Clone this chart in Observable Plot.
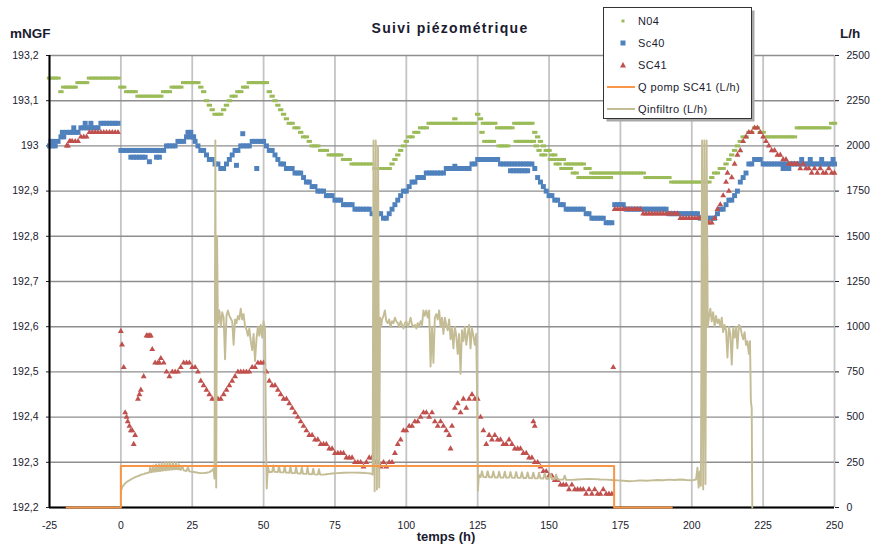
<!DOCTYPE html>
<html>
<head>
<meta charset="utf-8">
<script src="https://cdn.jsdelivr.net/npm/d3@7"></script>
<script src="https://cdn.jsdelivr.net/npm/@observablehq/plot@0.6"></script>
<style>
  body { margin: 0; background: #fff; }
  #chart { position: relative; width: 873px; height: 547px; overflow: hidden; background: #fff;
           font-family: "Liberation Sans", Arial, sans-serif; color: #1b1b2f; }
  #chart > svg, #chart > .layer { position: absolute; left: 0; top: 0; }
  .lbl { position: absolute; white-space: nowrap; font-weight: bold; line-height: 1; }
</style>
</head>
<body>
<div id="chart"></div>
<script>
// Hourly piezometer readings (mNGF) starting at hour -25, one reading per hour
const firstHour = -25;

const n04Level = [
  193.15,193.15,193.15,193.15,193.12,193.13,193.13,193.13,193.13,193.13,
  193.14,193.14,193.14,193.14,193.15,193.15,193.15,193.15,193.15,193.15,
  193.15,193.15,193.15,193.15,193.15,193.13,193.13,193.12,193.12,193.12,
  193.12,193.11,193.11,193.11,193.11,193.11,193.11,193.11,193.11,193.11,
  193.12,193.12,193.12,193.13,193.13,193.13,193.13,193.14,193.14,193.14,
  193.14,193.14,193.14,193.13,193.12,193.10,193.09,193.08,193.07,193.07,
  193.07,193.08,193.09,193.10,193.11,193.11,193.12,193.12,193.13,193.13,
  193.14,193.14,193.14,193.14,193.14,193.14,193.14,193.12,193.11,193.10,
  193.09,193.08,193.07,193.06,193.05,193.05,193.04,193.04,193.03,193.02,
  193.02,193.01,193.00,193.00,193.00,192.99,192.99,192.99,192.98,192.98,
  192.98,192.98,192.98,192.97,192.97,192.97,192.96,192.96,192.96,192.96,
  192.96,192.96,192.96,192.96,192.95,192.95,192.95,192.95,192.95,192.95,
  192.96,192.97,192.98,192.99,193.00,193.01,193.02,193.02,193.03,193.03,
  193.04,193.04,193.04,193.05,193.05,193.05,193.05,193.05,193.05,193.05,
  193.05,193.05,193.05,193.05,193.05,193.05,193.05,193.05,193.05,193.05,
  193.07,193.06,193.05,193.05,193.05,193.05,193.05,193.04,193.04,193.04,
  193.04,193.04,193.04,193.05,193.05,193.05,193.05,193.05,193.05,193.05,
  193.03,193.02,193.01,193.00,192.99,192.99,192.98,192.98,192.97,192.97,
  192.97,192.96,192.96,192.96,192.96,192.96,192.96,192.96,192.95,192.95,
  192.94,192.94,192.94,192.94,192.94,192.94,192.94,192.94,192.94,192.94,
  192.94,192.94,192.94,192.94,192.94,192.94,192.94,192.94,192.94,192.93,
  192.93,192.93,192.93,192.93,192.93,192.93,192.93,192.93,192.92,192.92,
  192.92,192.92,192.92,192.92,192.92,192.92,192.92,192.92,192.92,192.92,
  192.92,192.92,192.93,192.94,192.94,192.95,192.95,192.96,192.97,192.98,
  192.99,193.00,193.01,193.02,193.02,193.03,193.03,193.04,193.04,193.03,
  193.03,193.02,193.02,193.02,193.02,193.02,193.02,193.02,193.02,193.02,
  193.02,193.02,193.04,193.04,193.04,193.04,193.04,193.04,193.04,193.04,
  193.04,193.04,193.04,193.04,193.05,193.05
];

const sc40Level = [
  193.00,193.00,193.00,193.01,193.02,193.02,193.03,193.03,193.03,193.03,
  193.03,193.04,193.04,193.04,193.04,193.04,193.04,193.04,193.05,193.05,
  193.05,193.05,193.05,193.05,193.05,192.99,192.99,192.99,192.99,192.99,
  192.99,192.99,192.99,192.99,192.99,192.99,192.99,192.99,192.99,192.99,
  192.99,193.00,193.00,193.00,193.00,193.01,193.01,193.01,193.02,193.02,
  193.02,193.01,193.00,192.99,192.99,192.98,192.97,192.97,192.96,192.96,
  192.95,192.95,192.96,192.97,192.98,192.99,192.99,193.00,193.00,193.00,
  193.00,193.01,193.01,193.01,193.01,193.01,193.00,192.99,192.99,192.98,
  192.97,192.96,192.96,192.95,192.95,192.95,192.94,192.94,192.94,192.93,
  192.92,192.92,192.91,192.91,192.90,192.90,192.90,192.89,192.89,192.89,
  192.88,192.88,192.88,192.87,192.87,192.87,192.87,192.86,192.86,192.86,
  192.86,192.86,192.86,192.85,192.85,192.85,192.85,192.84,192.84,192.85,
  192.86,192.87,192.88,192.89,192.90,192.90,192.91,192.92,192.92,192.93,
  192.93,192.93,192.94,192.94,192.94,192.94,192.94,192.94,192.94,192.95,
  192.95,192.95,192.95,192.95,192.95,192.95,192.95,192.95,192.96,192.96,
  192.97,192.97,192.97,192.97,192.97,192.97,192.97,192.97,192.96,192.96,
  192.96,192.96,192.96,192.96,192.96,192.96,192.96,192.96,192.96,192.96,
  192.95,192.93,192.92,192.91,192.90,192.89,192.89,192.88,192.88,192.87,
  192.87,192.86,192.86,192.86,192.86,192.86,192.86,192.86,192.85,192.85,
  192.84,192.84,192.84,192.84,192.84,192.83,192.83,192.83,192.87,192.87,
  192.87,192.87,192.86,192.86,192.86,192.86,192.86,192.86,192.86,192.86,
  192.86,192.86,192.86,192.86,192.86,192.86,192.86,192.85,192.85,192.85,
  192.85,192.85,192.85,192.85,192.85,192.85,192.85,192.85,192.84,192.84,
  192.84,192.84,192.84,192.84,192.85,192.86,192.86,192.87,192.88,192.88,
  192.89,192.90,192.92,192.93,192.94,192.96,192.96,192.97,192.97,192.97,
  192.96,192.96,192.96,192.96,192.96,192.96,192.96,192.96,192.96,192.96,
  192.96,192.96,192.96,192.96,192.96,192.96,192.96,192.96,192.96,192.96,
  192.96,192.96,192.96,192.96,192.96,192.96
];

const sc41Level = [
  null,null,null,null,null,null,193.00,193.01,193.01,193.01,
  193.01,193.02,193.02,193.02,193.03,193.03,193.03,193.03,193.03,193.03,
  193.03,193.03,193.03,193.03,193.03,192.59,192.51,192.40,192.38,192.37,
  192.36,192.44,192.46,192.49,192.58,192.58,192.55,192.52,192.52,192.53,
  192.52,192.50,192.49,192.50,192.50,192.50,192.51,192.52,192.52,192.52,
  192.51,192.51,192.50,192.48,192.47,192.46,192.45,192.44,192.44,192.44,
  192.44,192.45,192.46,192.47,192.48,192.49,192.50,192.50,192.50,192.50,
  192.50,192.51,192.51,192.52,192.52,192.52,192.50,192.48,192.47,192.47,
  192.46,192.45,192.44,192.44,192.43,192.42,192.41,192.40,192.39,192.38,
  192.37,192.36,192.36,192.35,192.35,192.34,192.34,192.34,192.33,192.33,
  192.32,192.32,192.32,192.32,192.31,192.31,192.31,192.30,192.30,192.30,
  192.29,192.30,192.31,192.31,192.30,192.30,192.29,192.30,192.29,192.30,
  192.30,192.32,192.34,192.35,192.37,192.37,192.38,192.38,192.39,192.39,
  192.40,192.41,192.41,192.40,192.41,192.39,192.38,192.39,192.38,192.37,
  192.36,192.38,192.42,192.43,192.41,192.44,192.42,192.44,192.45,192.44,
  192.44,192.40,192.37,192.34,192.36,192.35,192.36,192.35,192.35,192.34,
  192.34,192.35,192.34,192.33,192.33,192.33,192.32,192.32,192.31,192.31,
  192.30,192.30,192.29,192.28,192.28,192.27,192.27,192.26,192.26,192.25,
  192.25,192.25,192.24,192.25,192.24,192.24,192.24,192.24,192.23,192.24,
  192.23,192.24,192.23,192.23,192.24,192.23,192.23,192.23,192.86,192.86,
  192.86,192.86,192.86,192.86,192.86,192.86,192.86,192.86,192.85,192.85,
  192.85,192.85,192.85,192.85,192.85,192.85,192.85,192.85,192.85,192.85,
  192.85,192.84,192.84,192.84,192.84,192.84,192.84,192.84,192.84,192.84,
  192.83,192.83,192.83,192.84,192.86,192.87,192.89,192.92,192.90,192.93,
  192.96,192.98,192.99,193.01,193.02,193.03,193.03,193.04,193.04,193.03,
  193.02,193.01,193.00,192.99,192.99,192.98,192.98,192.97,192.97,192.96,
  192.96,192.96,192.96,192.95,192.96,192.95,192.95,192.94,192.95,192.94,
  192.95,192.94,192.94,192.95,192.94,192.94
];

// Readings logged between the hourly ones: [hour, mNGF]
const n04Extra = [
  [117,193.06],[126.5,193.03],[127.5,193.01],[128.5,193.01],[129.5,193.01],[130.5,193.01],
  [132.5,193.00],[133.5,193.00],[134.5,193.00],[135.5,193.00],[138.5,193.01],[139.5,193.01],
  [140.5,193.01],[141.5,193.01],[142.5,193.01],[143.5,193.01],[144.5,193.01],[145.5,193.00],
  [146.5,192.99],[147.5,192.98],[148.5,192.98],[150.5,192.97],[151.5,192.97],[152.5,192.96],
  [153.5,192.96],[154.5,192.95],[155.5,192.95],[156.5,192.95],[157.5,192.95],[158.5,192.94],
  [159.5,192.94],[160.5,192.93],[161.5,192.93],[162.5,192.93],[163.5,192.93],[164.5,192.93],
  [165.5,192.93],[166.5,192.93],[167.5,192.93],[168.5,192.93],[169.5,192.93],[170.5,192.93],
  [171.5,192.93]
];
const sc40Extra = [
  [-24.5,193.01],[-23.5,193.01],[-20.5,193.03],[-16.5,193.04],[-12.5,193.05],[-10.5,193.05],
  [3.5,192.975],[4.5,192.975],[5.5,192.975],[6.5,192.975],[7.5,192.975],[8.5,192.975],
  [10,192.965],[12.5,192.975],[13.5,192.975],[23.5,193.03],[24.5,193.03],[25.5,193.02],
  [40.5,192.957],[42.7,193.027],[47.6,192.95],[117,192.955],[136.5,192.945],[137.5,192.945],
  [138.5,192.945],[139.5,192.945],[140.5,192.945],[141.5,192.945],[142.5,192.945],
  [232,192.95],[233,192.95],[234,192.95],[238.5,192.97],[241.5,192.97],[245.5,192.97],[249.5,192.97]
];
const sc41Extra = [
  [-18.5,193.00],[-17.5,193.01],[0.4,192.56],[1.5,192.41],[2.4,192.39],[3.5,192.37],[4.5,192.34],
  [6.5,192.45],[9.5,192.58],[10.5,192.58],[13.5,192.52],[115.5,192.33],[144.5,192.39],
  [145,192.38],[172.5,192.51],[212.5,192.94]
];

// Pumping rate of SC41 (L/h)
const qPompHours = [-19, 0, 0, 172.8, 172.8, 193];
const qPompRate  = [0, 0, 230, 230, 0, 0];

// Infiltration rate (L/h): [hour, L/h]
const qInfiltro = [
  [0,90],[0.4,110],[0.8,120],[1.2,128],[1.6,135],[2,140],[2.5,146],[3,150],[3.5,155],[4,160],
  [4.5,163],[5,168],[5.5,171],[6,174],[6.5,177],[7,180],[7.5,183],[8,185],[8.5,188],[9,190],
  [9.5,192],[10,194],[10.3,225],[10.6,195],[11,197],[11.3,232],[11.6,198],[12,199],[12.3,238],
  [12.6,200],[13,201],[13.3,240],[13.6,202],[14,203],[14.3,245],[14.6,204],[15,205],[15.3,246],
  [15.6,206],[16,207],[16.3,250],[16.6,208],[17,209],[17.3,250],[17.6,210],[18,210],[18.3,248],
  [18.6,211],[19,211],[19.3,246],[19.6,212],[20,211],[20.3,240],[20.6,210],[21,208],[21.5,230],
  [22,205],[23,202],[23.5,222],[24,200],[25,198],[26,195],[27,192],[28,190],[29,190],[30,192],
  [31,196],[32,205],[32.5,215],[32.8,160],[33.1,2030],[33.4,110],[33.7,1500],[34,1020],
  [34.5,1090],[35,1000],[35.5,1080],[36,1050],[36.5,820],[37,1060],[37.5,1090],[38,1060],
  [38.5,1045],[39,1030],[39.5,900],[40,1040],[40.5,1020],[41,1060],[41.5,1040],[42,1100],
  [42.5,1040],[43,1070],[43.5,1000],[44,985],[44.5,950],[45,990],[45.5,920],[46,870],[46.5,960],
  [47,810],[47.5,930],[48,1000],[48.5,950],[49,1010],[49.5,940],[50,1030],[50.5,980],[50.9,300],
  [51.1,105],[51.5,225],[52,195],[53,198],[53.4,232],[53.8,197],[55,196],[55.4,230],[55.8,195],
  [57,194],[57.4,228],[57.8,193],[59,192],[59.4,226],[59.8,191],[61,190],[61.4,224],[61.8,189],
  [63,188],[63.4,222],[63.8,187],[65,186],[65.4,220],[65.8,185],[67,184],[67.4,215],[67.8,183],
  [69,182],[69.4,212],[69.8,182],[71,182],[72,184],[73,186],[74,188],[76,190],[78,192],[80,193],
  [82,193],[84,192],[86,190],[87.5,188],[88.2,182],[88.5,2030],[88.9,90],[89.3,2030],[89.7,100],
  [90.1,2000],[90.5,110],[90.8,1050],[91.2,1000],[91.5,1040],[92,1060],[92.5,1090],[93,1030],
  [93.5,1020],[94,1040],[94.5,1000],[95,1030],[95.5,1020],[96,1050],[96.5,1030],[97,1020],
  [97.5,1000],[98,1030],[98.5,1010],[99,990],[99.5,1020],[100,1030],[100.5,1000],[101,1020],
  [101.5,1050],[102,1010],[102.5,1000],[103,1010],[103.5,990],[104,1020],[104.5,1000],[105,1030],
  [105.5,1010],[106,1090],[106.5,1060],[107,1090],[107.5,1050],[108,1090],[108.5,780],[109,1000],
  [109.5,800],[110,1050],[110.5,1070],[111,1040],[111.5,1090],[112,1000],[112.5,1050],[113,960],
  [113.5,1050],[114,1010],[114.5,980],[115,1040],[115.5,930],[116,990],[116.5,880],[117,1000],
  [117.5,950],[118,850],[118.5,960],[119,740],[119.5,980],[120,920],[120.5,1000],[121,900],
  [121.5,960],[122,1010],[122.5,880],[123,990],[123.5,950],[124,900],[124.5,960],[124.8,600],
  [125.1,94],[125.4,180],[126,168],[126.5,200],[127,168],[128,167],[128.5,200],[129,167],[130,167],
  [130.5,199],[131,166],[132,166],[132.5,198],[133,166],[134,165],[134.5,198],[135,165],[136,165],
  [136.5,196],[137,165],[138,164],[138.5,196],[139,164],[140,164],[140.5,195],[141,163],[142,163],
  [142.5,194],[143,163],[144,162],[144.5,193],[145,162],[146,161],[146.5,192],[147,161],[148,160],
  [148.5,190],[149,159],[150,158],[150.5,186],[151,157],[152,156],[152.5,182],[153,155],[154,154],
  [155,154],[155.5,176],[156,153],[158,153],[160,155],[162,157],[164,158],[166,157],[168,155],
  [170,154],[172,152],[174,150],[176,148],[178,145],[180,147],[182,150],[184,148],[186,150],
  [188,152],[190,151],[192,154],[194,152],[196,155],[198,152],[200,150],[201.5,155],[202,220],
  [202.4,110],[202.8,200],[203.2,120],[203.6,2030],[204,100],[204.4,2030],[204.8,130],[205.2,2030],
  [205.6,1000],[206,1050],[206.5,1100],[207,1030],[207.5,1080],[208,1000],[208.5,1060],[209,1020],
  [209.5,1040],[210,1000],[210.5,1050],[211,970],[211.5,1010],[212,980],[212.5,830],[213,1000],
  [213.5,960],[214,790],[214.5,990],[215,940],[215.5,1000],[216,880],[216.5,1010],[217,1000],
  [217.5,960],[218,930],[218.5,970],[219,900],[219.5,920],[220,850],[220.4,920],[220.7,590],
  [221,550],[221.2,0]
];

// Axis ticks
const hourTicks  = [-25, 0, 25, 50, 75, 100, 125, 150, 175, 200, 225, 250];
const levelTicks = [192.2, 192.3, 192.4, 192.5, 192.6, 192.7, 192.8, 192.9, 193.0, 193.1, 193.2];
const flowTicks  = [0, 250, 500, 750, 1000, 1250, 1500, 1750, 2000, 2250, 2500];

// Series styling
const colors = { n04: "#9bbb59", sc40: "#4f81bd", sc41: "#c0504d", pomp: "#f79646", infiltro: "#c4bc95" };
const textColor = "#1b1b2f";
const font = "'Liberation Sans', Arial, sans-serif";

// Short horizontal dash marker for N04
const dashSymbol = {
  draw(context, size) {
    const s = Math.sqrt(size);
    const w = s * 1.5, h = s * 0.85;
    context.rect(-w / 2, -h / 2, w, h);
  }
};

const toRows = (levels, extra) =>
  levels.map((v, i) => ({ hour: firstHour + i, level: v }))
        .filter(d => d.level != null)
        .concat(extra.map(([hour, level]) => ({ hour, level })));

const n04Rows  = toRows(n04Level, n04Extra);
const sc40Rows = toRows(sc40Level, sc40Extra);
const sc41Rows = toRows(sc41Level, sc41Extra);
const pompRows = qPompHours.map((h, i) => ({ hour: h, rate: qPompRate[i] }));
const infRows  = qInfiltro.map(([hour, rate]) => ({ hour, rate }));

const frame = { width: 873, height: 547, marginTop: 55, marginRight: 39, marginBottom: 40, marginLeft: 49 };
const frNum = d => (Math.round(d * 10) / 10).toString().replace(".", ",");

// Water levels, left axis
const levels = Plot.plot({
  ...frame,
  style: { background: "transparent", fontFamily: font, fontSize: "10.5px", color: textColor },
  x: { domain: [-25, 250] },
  y: { domain: [192.2, 193.2] },
  marks: [
    Plot.gridX(hourTicks, { stroke: "#c4c4c4", strokeOpacity: 1, strokeWidth: 1.8 }),
    Plot.gridY(levelTicks, { stroke: "#8e8e8e", strokeOpacity: 1, strokeWidth: 1.4 }),
    Plot.axisY(levelTicks, { tickSize: 3, tickPadding: 8, tickFormat: frNum, label: null }),
    Plot.axisX(hourTicks, { tickSize: 0, tickPadding: 14, tickFormat: d => String(d), label: null }),
    Plot.dot(n04Rows,  { x: "hour", y: "level", symbol: dashSymbol, r: 2.0, fill: colors.n04 }),
    Plot.dot(sc40Rows, { x: "hour", y: "level", symbol: "square",   r: 2.8, fill: colors.sc40 }),
    Plot.dot(sc41Rows, { x: "hour", y: "level", symbol: "triangle", r: 2.2, fill: colors.sc41 }),
    Plot.ruleX([-25], { stroke: "#000", strokeWidth: 2 }),
    Plot.ruleY([192.2], { stroke: "#000", strokeWidth: 2 })
  ]
});

// Flow rates, right axis
const flows = Plot.plot({
  ...frame,
  style: { background: "transparent", fontFamily: font, fontSize: "10.5px", color: textColor },
  x: { domain: [-25, 250], axis: null },
  y: { domain: [0, 2500] },
  marks: [
    Plot.axisY(flowTicks, { anchor: "right", tickSize: 4, tickPadding: 8, tickFormat: d => String(d), label: null }),
    Plot.line(infRows,  { x: "hour", y: "rate", stroke: colors.infiltro, strokeWidth: 1.9 }),
    Plot.line(pompRows, { x: "hour", y: "rate", stroke: colors.pomp, strokeWidth: 2 })
  ]
});

const chart = document.getElementById("chart");
chart.append(levels, flows);

// Titles and axis names
const addLabel = (text, css) => {
  const el = document.createElement("div");
  el.className = "lbl";
  el.textContent = text;
  Object.assign(el.style, css);
  chart.append(el);
};
addLabel("Suivi piézométrique", { left: "450px", top: "21px", fontSize: "14px", letterSpacing: "1.3px", transform: "translateX(-50%)" });
addLabel("mNGF", { left: "10px", top: "27px", fontSize: "13.5px" });
addLabel("L/h", { left: "840px", top: "27px", fontSize: "13.5px" });
addLabel("temps (h)", { left: "446px", top: "530px", fontSize: "13px", transform: "translateX(-50%)" });

// Legend
const legendItems = [
  { name: "N04", kind: "square", size: 3, color: colors.n04 },
  { name: "Sc40", kind: "square", size: 5, color: colors.sc40 },
  { name: "SC41", kind: "triangle", size: 6, color: colors.sc41 },
  { name: "Q pomp SC41 (L/h)", kind: "line", color: colors.pomp },
  { name: "Qinfiltro (L/h)", kind: "line", color: colors.infiltro }
];
const ns = "http://www.w3.org/2000/svg";
const legend = document.createElementNS(ns, "svg");
legend.setAttribute("class", "layer");
legend.setAttribute("width", 153);
legend.setAttribute("height", 116);
legend.style.left = "603px";
legend.style.top = "7px";
const mk = (tag, attrs) => {
  const e = document.createElementNS(ns, tag);
  for (const k in attrs) e.setAttribute(k, attrs[k]);
  legend.append(e);
  return e;
};
mk("rect", { x: 3.5, y: 3.5, width: 148, height: 111, fill: "#a8a8a8" });
mk("rect", { x: 0.5, y: 0.5, width: 148, height: 111, fill: "#fff", stroke: "#333", "stroke-width": 1 });
legendItems.forEach((it, i) => {
  const cy = 14 + i * 22;
  if (it.kind === "square") {
    mk("rect", { x: 20 - it.size / 2, y: cy - it.size / 2, width: it.size, height: it.size, fill: it.color });
  } else if (it.kind === "triangle") {
    mk("path", { d: `M20,${cy - 3}L23,${cy + 2.5}L17,${cy + 2.5}Z`, fill: it.color });
  } else {
    mk("line", { x1: 4, x2: 32, y1: cy, y2: cy, stroke: it.color, "stroke-width": 2 });
  }
  const t = mk("text", { x: 35, y: cy + 4, fill: textColor, "font-size": 11, "font-family": font, "letter-spacing": 0.4 });
  t.textContent = it.name;
});
chart.append(legend);
</script>
</body>
</html>
